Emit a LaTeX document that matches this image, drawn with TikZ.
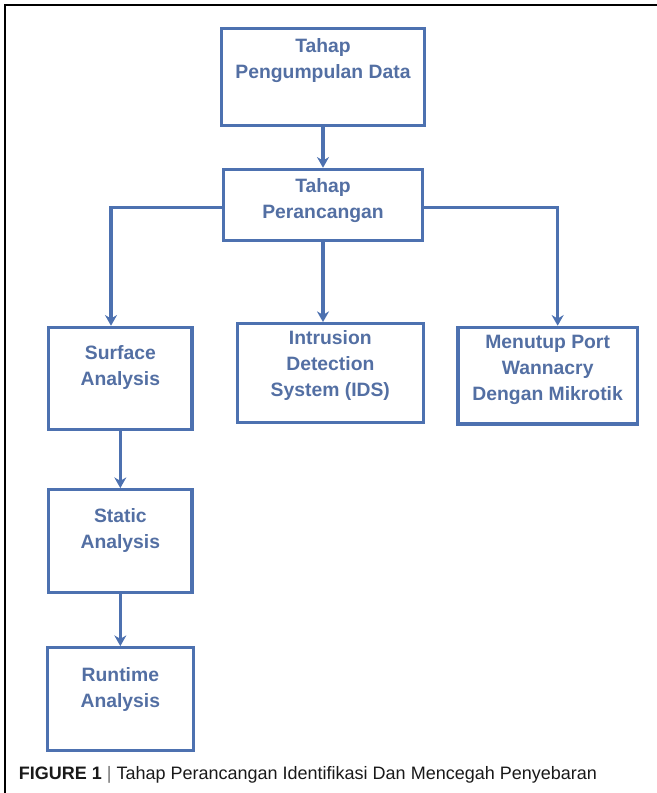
\documentclass[tikz,border=0pt]{standalone}
\usepackage{fontspec}
\setmainfont{Liberation Sans}
\usetikzlibrary{arrows.meta}
\definecolor{lineblue}{RGB}{77,113,176}
\definecolor{textblue}{RGB}{83,111,163}
\tikzstyle{item} = [rectangle, draw=lineblue, line width=2.4pt, inner sep=0pt]
\tikzstyle{lbl} = [text=textblue, align=center, font=\fontsize{14.5}{19.5}\selectfont\bfseries]
\tikzstyle{arrow} = [line width=2.4pt, draw=lineblue, -{Stealth[length=8pt,width=9pt]}]

\begin{document}
\begin{tikzpicture}[node distance=120pt]
\useasboundingbox (0,0) rectangle (492.75pt,-594.75pt);
\draw[line width=1.1pt] (3.75pt,-594.75pt) -- (3.75pt,-3.75pt) -- (492.75pt,-3.75pt);
\node(tpd)[item, minimum width=152pt, minimum height=72.5pt] at (242.25pt,-57.75pt){};
\node(pr)[item, below of=tpd, yshift=24pt, minimum width=149pt, minimum height=53.5pt]{};
\node(ids)[item, below of=pr, xshift=5.5pt, yshift=-6pt, minimum width=139.5pt, minimum height=74pt]{};
\node(sa)[item, below of=pr, xshift=-152pt, yshift=-10pt, minimum width=107.5pt, minimum height=76.5pt]{};
\node(mp)[item, below of=pr, xshift=168.5pt, yshift=-8pt, minimum width=134.5pt, minimum height=72.5pt]{};
\node(st)[item, below of=sa, yshift=-2pt, minimum width=107.5pt, minimum height=77pt]{};
\node(rt)[item, below of=st, yshift=1.5pt, minimum width=109.5pt, minimum height=77pt]{};
\node(tpdt)[lbl] at ([yshift=12.5pt]tpd.center){Tahap\\Pengumpulan Data};
\node(prt)[lbl] at ([yshift=3.5pt]pr.center){Tahap\\Perancangan};
\node(idst)[lbl] at ([yshift=6pt]ids.center){Intrusion\\Detection\\System (IDS)};
\node(sat)[lbl] at ([yshift=8.5pt]sa.center){Surface\\Analysis};
\node(mpt)[lbl] at ([yshift=4.5pt]mp.center){Menutup Port\\Wannacry\\Dengan Mikrotik};
\node(stt)[lbl] at ([yshift=8pt]st.center){Static\\Analysis};
\node(rtt)[lbl] at ([yshift=7pt]rt.center){Runtime\\Analysis};
\draw[arrow] (tpd) -- (pr);
\draw[arrow] (pr) -- (pr |- ids.north);
\draw[arrow] ([yshift=-2pt]pr.west) -| ([xshift=-7pt]sa.north);
\draw[arrow] ([yshift=-2pt]pr.east) -| ([xshift=7.5pt]mp.north);
\draw[arrow] (sa) -- (st);
\draw[arrow] (st) -- (rt);
\node(cap)[anchor=base west, inner sep=0pt, text=black!90, font=\fontsize{13.5}{16}\selectfont] at (14pt,-584.5pt){\textbf{FIGURE 1} \textcolor{black!55}{|} Tahap Perancangan Identifikasi Dan Mencegah Penyebaran};

\end{tikzpicture}
\end{document}
